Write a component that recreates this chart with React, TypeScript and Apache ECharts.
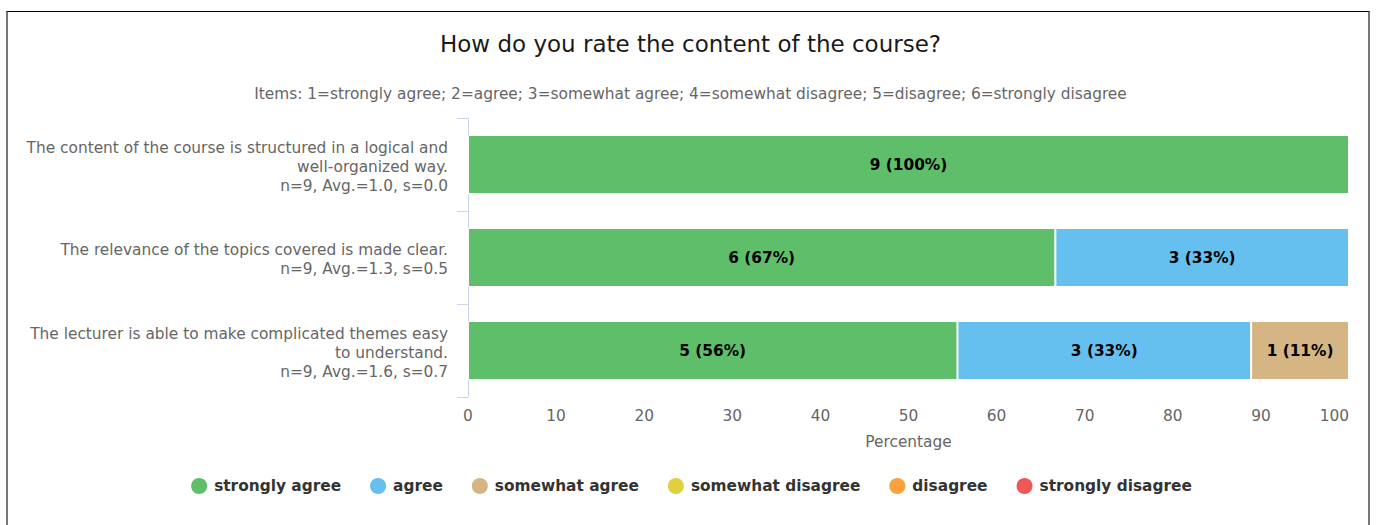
import React, { useEffect, useRef } from "react";
import * as echarts from "echarts";

const titleText = "How do you rate the content of the course?";
const subtitleText =
  "Items: 1=strongly agree; 2=agree; 3=somewhat agree; 4=somewhat disagree; 5=disagree; 6=strongly disagree";

const categories = [
  "The content of the course is structured in a logical and\nwell-organized way.\nn=9, Avg.=1.0, s=0.0",
  "The relevance of the topics covered is made clear.\nn=9, Avg.=1.3, s=0.5",
  "The lecturer is able to make complicated themes easy\nto understand.\nn=9, Avg.=1.6, s=0.7",
];
const totals = [9, 9, 9];

const seriesNames = [
  "strongly agree",
  "agree",
  "somewhat agree",
  "somewhat disagree",
  "disagree",
  "strongly disagree",
];
const stronglyAgree = [9, 6, 5];
const agree = [0, 3, 3];
const somewhatAgree = [0, 0, 1];
const somewhatDisagree = [0, 0, 0];
const disagree = [0, 0, 0];
const stronglyDisagree = [0, 0, 0];
const seriesCounts = [stronglyAgree, agree, somewhatAgree, somewhatDisagree, disagree, stronglyDisagree];
const seriesColors = ["#5fbe69", "#66c0ef", "#d6b585", "#dfd13e", "#f9a13b", "#f05858"];

const xTicks = { min: 0, max: 100, interval: 10 };

const FONT = "DejaVu Sans";
const FS = 15.36;

export default function App() {
  const ref = useRef<HTMLDivElement>(null);

  useEffect(() => {
    if (!ref.current) return;
    const chart = echarts.init(ref.current, undefined, { renderer: "svg" });

    const series = seriesNames.map((name, si) => ({
      name,
      type: "bar",
      stack: "total",
      barWidth: 59,
      xAxisIndex: 0,
      yAxisIndex: 0,
      itemStyle: { color: seriesColors[si], borderColor: "#ffffff", borderWidth: 1 },
      label: {
        show: true,
        position: "inside",
        fontFamily: FONT,
        fontSize: FS,
        fontWeight: "bold",
        color: "#000000",
        formatter: (p: any) => {
          const c = seriesCounts[si][p.dataIndex];
          return `${c} (${Math.round((c / totals[p.dataIndex]) * 100)}%)`;
        },
      },
      emphasis: { disabled: true },
      data: seriesCounts[si].map((c, i) => (c > 0 ? (c / totals[i]) * 100 : null)),
    }));

    chart.setOption({
      animation: false,
      backgroundColor: "#ffffff",
      textStyle: { fontFamily: FONT },
      title: {
        text: titleText,
        subtext: subtitleText,
        left: "center",
        top: 27,
        itemGap: 31,
        textStyle: { fontFamily: FONT, fontSize: 23, fontWeight: "normal", color: "#1a1a1a" },
        subtextStyle: { fontFamily: FONT, fontSize: FS, color: "#666666" },
      },
      legend: {
        bottom: 24,
        left: "center",
        icon: "circle",
        itemWidth: 18,
        itemHeight: 18,
        itemGap: 27,
        textStyle: { fontFamily: FONT, fontSize: FS, fontWeight: "bold", color: "#333333", padding: [0, 0, 0, 1] },
        data: seriesNames,
      },
      grid: [
        { left: 468, right: 32, top: 118, bottom: 128, containLabel: false },
        { left: 468, right: 32, top: 120, bottom: 126, containLabel: false },
      ],
      xAxis: [
        {
          type: "value",
          gridIndex: 0,
          min: xTicks.min,
          max: xTicks.max,
          interval: xTicks.interval,
          name: "Percentage",
          nameLocation: "middle",
          nameGap: 37,
          nameTextStyle: { fontFamily: FONT, fontSize: FS, color: "#666666" },
          axisLine: { show: false },
          axisTick: { show: false },
          splitLine: { show: false },
          axisLabel: { fontFamily: FONT, fontSize: FS, color: "#666666", margin: 11, alignMaxLabel: "right" },
        },
        { type: "value", gridIndex: 1, min: xTicks.min, max: xTicks.max, show: false },
      ],
      yAxis: [
        {
          type: "category",
          gridIndex: 0,
          inverse: true,
          data: categories,
          axisLine: { show: true, lineStyle: { color: "#ccd6eb", width: 1 } },
          axisTick: { show: true, length: 11, lineStyle: { color: "#ccd6eb" } },
          axisLabel: { show: false },
        },
        {
          type: "category",
          gridIndex: 1,
          inverse: true,
          data: categories,
          axisLine: { show: false },
          axisTick: { show: false },
          axisLabel: {
            fontFamily: FONT,
            fontSize: FS,
            color: "#666666",
            margin: 20,
            lineHeight: 19,
            align: "right",
          },
        },
      ],
      series,
    });

    return () => chart.dispose();
  }, []);

  return (
    <>
      <div
        ref={ref}
        style={{ position: "fixed", left: 0, top: 0, width: 1381, height: 525 }}
      />
      <div
        style={{
          position: "fixed",
          left: 6,
          top: 11,
          width: 1360,
          height: 530,
          borderTop: "1px solid #000",
          borderLeft: "2px solid #777",
          borderRight: "2px solid #777",
          pointerEvents: "none",
        }}
      />
    </>
  );
}
